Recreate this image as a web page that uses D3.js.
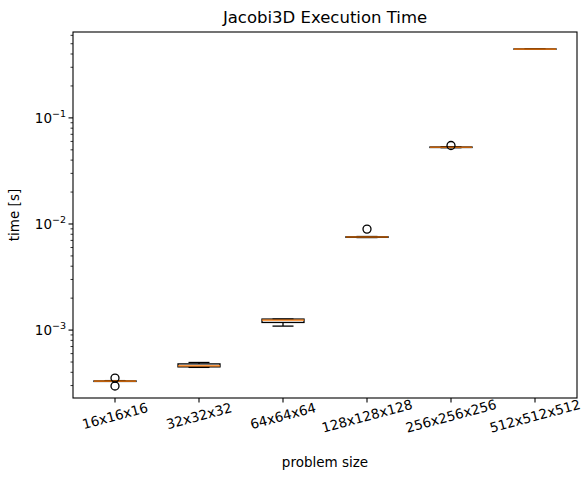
<!DOCTYPE html><html><head><meta charset="utf-8"><script src="https://cdn.jsdelivr.net/npm/d3@7"></script>
<style>body{margin:0;background:#fff}text{font-family:"DejaVu Sans",sans-serif}</style></head><body><svg id="c" width="585" height="479"></svg>
<script>
const categories=["16x16x16","32x32x32","64x64x64","128x128x128","256x256x256","512x512x512"];
const whiskerLow=[3.3e-4,4.45e-4,1.09e-3,7.45e-3,0.0524,0.443];
const q1=[3.28e-4,4.5e-4,1.18e-3,7.48e-3,0.0526,0.444];
const median=[3.3e-4,4.6e-4,1.24e-3,7.53e-3,0.0529,0.445];
const q3=[3.32e-4,4.8e-4,1.27e-3,7.58e-3,0.0532,0.447];
const whiskerHigh=[3.34e-4,4.95e-4,1.27e-3,7.62e-3,0.0535,0.448];
const outliers=[[3.53e-4,2.97e-4],[],[],[8.95e-3],[0.0549],[]];
const yTicks=[1e-3,1e-2,1e-1];
const L=73,R=577,T=32,B=398;
const svg=d3.select("#c");
const x=d3.scaleLinear().domain([0.5,6.5]).range([L,R]);
const y=d3.scaleLog().domain([2.29e-4,0.645]).range([B,T]);
const bw=x(1.25)-x(1);
categories.forEach((c,i)=>{
 const cx=x(i+1),g=svg.append("g").attr("stroke-width",1.3);
 g.append("line").attr("x1",cx).attr("x2",cx).attr("y1",y(whiskerLow[i])).attr("y2",y(q1[i])).attr("stroke","#000");
 g.append("line").attr("x1",cx).attr("x2",cx).attr("y1",y(whiskerHigh[i])).attr("y2",y(q3[i])).attr("stroke","#000");
 [whiskerLow[i],whiskerHigh[i]].forEach(v=>g.append("line").attr("x1",cx-bw/2).attr("x2",cx+bw/2).attr("y1",y(v)).attr("y2",y(v)).attr("stroke","#000"));
 g.append("rect").attr("x",cx-bw).attr("width",2*bw).attr("y",y(q3[i])).attr("height",Math.max(0,y(q1[i])-y(q3[i]))).attr("fill","none").attr("stroke","#000");
 g.append("line").attr("x1",cx-bw).attr("x2",cx+bw).attr("y1",y(median[i])).attr("y2",y(median[i])).attr("stroke","#ff7f0e").attr("stroke-width",1.6).attr("opacity",0.75);
 outliers[i].forEach(v=>g.append("circle").attr("cx",cx).attr("cy",y(v)).attr("r",4).attr("fill","none").attr("stroke","#000"));
});
svg.append("rect").attr("x",L).attr("y",T).attr("width",R-L).attr("height",B-T).attr("fill","none").attr("stroke","#000").attr("stroke-width",1.1);
const minor=[];for(let e=-4;e<0;e++)for(let k=2;k<10;k++){const v=k*Math.pow(10,e);if(v>2.29e-4&&v<0.645)minor.push(v);}
minor.forEach(v=>svg.append("line").attr("x1",L-2.5).attr("x2",L).attr("y1",y(v)).attr("y2",y(v)).attr("stroke","#000").attr("stroke-width",0.8));
yTicks.forEach(v=>{svg.append("line").attr("x1",L-4.5).attr("x2",L).attr("y1",y(v)).attr("y2",y(v)).attr("stroke","#000").attr("stroke-width",1.1);
 const t=svg.append("text").attr("x",L-7).attr("y",y(v)+5).attr("text-anchor","end").attr("font-size",13.5);
 t.append("tspan").text("10");t.append("tspan").attr("dy",-6).attr("font-size",9.5).text("−"+Math.round(-Math.log10(v)));});
categories.forEach((c,i)=>{const cx=x(i+1);
 svg.append("line").attr("x1",cx).attr("x2",cx).attr("y1",B).attr("y2",B+4.5).attr("stroke","#000").attr("stroke-width",1.1);
 svg.append("text").attr("transform",`translate(${cx},${B+18}) rotate(-15)`).attr("text-anchor","middle").attr("dy","0.35em").attr("font-size",13.5).text(c);});
svg.append("text").attr("x",(L+R)/2).attr("y",T-9).attr("text-anchor","middle").attr("font-size",16.5).text("Jacobi3D Execution Time");
svg.append("text").attr("x",(L+R)/2).attr("y",467).attr("text-anchor","middle").attr("font-size",13.5).text("problem size");
svg.append("text").attr("transform",`translate(19,${(T+B)/2}) rotate(-90)`).attr("text-anchor","middle").attr("font-size",13.5).text("time [s]");
</script></body></html>
